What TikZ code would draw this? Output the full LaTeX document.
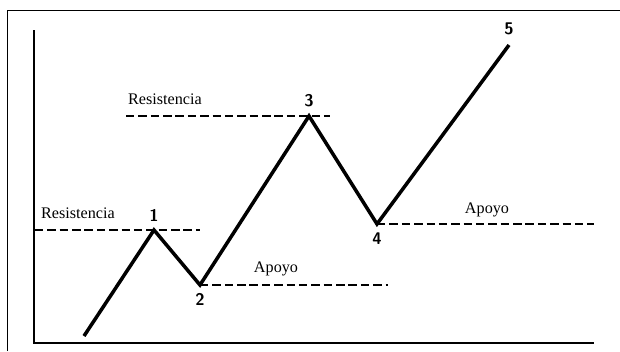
\documentclass[tikz,border=0pt]{standalone}
\usepackage{fontspec}
\setmainfont{Liberation Serif}
\usetikzlibrary{positioning}
\begin{document}
\begin{tikzpicture}[
  x=0.025cm, y=-0.025cm,
  trend/.style={line width=2.5pt},
  guide/.style={line width=1.6pt, dash pattern=on 6pt off 2.8pt},
  axis/.style={line width=1.4pt},
  lbl/.style={font=\fontsize{11.5}{13}\selectfont, inner sep=1pt},
  num/.style={font=\sffamily\bfseries\fontsize{12}{14}\selectfont, inner sep=1pt}
]
\useasboundingbox (0,0) rectangle (620,351);
% marco
\draw[line width=0.7pt] (7,351) -- (7,10) -- (620,10);
% ejes
\coordinate (ytop) at (34,30);
\coordinate (orig) at (34,343);
\coordinate (xend) at (594,343);
\draw[axis] (ytop) -- (orig) -- (xend);

% puntos de giro
\coordinate (p0) at (84,336);
\coordinate (p1) at (154,230);
\coordinate (p2) at (200,285);
\coordinate (p3) at (309,116);
\coordinate (p4) at (377,224);
\coordinate (p5) at (509,45);

% niveles
\coordinate (res1a) at (35,230);
\coordinate (res1b) at (200,230);
\coordinate (res3a) at (126,116);
\coordinate (res3b) at (330,116);
\coordinate (apo2b) at (388,285);
\coordinate (apo4b) at (594,224);
\draw[guide] (res1a) -- (res1b);
\draw[guide] (res3a) -- (res3b);
\draw[guide] (p2) -- (apo2b);
\draw[guide] (p4) -- (apo4b);

\draw[trend] (p0) -- (p1) -- (p2) -- (p3) -- (p4) -- (p5);

\node[num, above=5pt of p1] (n1) {1};
\node[num, below=5pt of p2] (n2) {2};
\node[num, above=5pt of p3] (n3) {3};
\node[num, below=5pt of p4] (n4) {4};
\node[num, above=6pt of p5] (n5) {5};

\node[lbl] (res1) at (78,213) {Resistencia};
\node[lbl] (res3) at (165,99) {Resistencia};
\node[lbl] (apo2) at (276,269) {Apoyo};
\node[lbl] (apo4) at (487,210) {Apoyo};
\end{tikzpicture}
\end{document}
